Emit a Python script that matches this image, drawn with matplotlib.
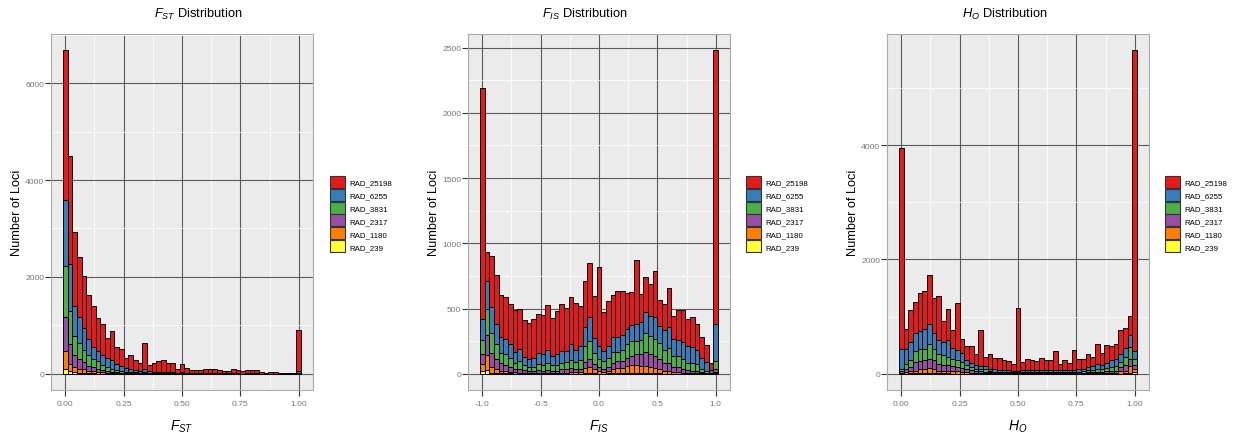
import numpy as np
import matplotlib
matplotlib.use("Agg")
import matplotlib.pyplot as plt
from matplotlib.patches import Patch
from matplotlib.ticker import MultipleLocator

plt.rcParams['font.family'] = ['Liberation Sans', 'DejaVu Sans']
plt.rcParams['mathtext.fontset'] = 'custom'
plt.rcParams['mathtext.rm'] = 'Liberation Sans'
plt.rcParams['mathtext.it'] = 'Liberation Sans:italic'

groups = ["RAD_25198", "RAD_6255", "RAD_3831", "RAD_2317", "RAD_1180", "RAD_239"]
colors = ["#E41A1C", "#377EB8", "#4DAF4A", "#984EA3", "#FF7F00", "#FFFF33"]

# ---- F_ST histogram (bin width 0.02, centres 0..1) ----
fst_centers = np.round(np.arange(51) * 0.02, 2)
fst_r25198 = [3090, 2230, 1530, 1240, 1070, 910, 840, 680, 645, 420, 600, 343, 360, 208, 290, 200, 160,
              545, 137, 180, 222, 250, 190, 185, 80, 165, 105, 58, 58, 70, 85, 85, 85, 70, 47, 41, 78,
              60, 42, 60, 60, 60, 24, 17, 24, 24, 13, 17, 9, 7, 850]
fst_r6255 = [1360, 970, 620, 530, 450, 330, 240, 225, 205, 180, 175, 132, 98, 77, 65, 47, 38, 60, 30, 25,
             25, 25, 25, 22, 12, 18, 12, 7, 7, 8, 10, 10, 10, 8, 5, 5, 8, 6, 4, 6, 6, 6, 3, 2, 3, 3, 2, 2,
             1, 1, 40]
fst_r3831 = [1060, 670, 400, 340, 260, 220, 170, 155, 110, 85, 60, 45, 37, 22, 20, 16, 12, 18, 10, 9, 9,
             9, 8, 8, 5, 6, 4, 3, 3, 3, 3, 3, 3, 3, 2, 1, 3, 2, 1, 2, 2, 2, 1, 1, 1, 1, 0, 1, 0, 0, 7]
fst_r2317 = [700, 413, 242, 200, 150, 110, 90, 65, 47, 35, 25, 20, 17, 12, 10, 8, 7, 8, 5, 4, 4, 4, 3, 3,
             2, 3, 2, 1, 1, 2, 2, 2, 2, 2, 1, 1, 1, 1, 1, 1, 1, 1, 0, 0, 0, 0, 0, 0, 0, 0, 2]
fst_r1180 = [370, 157, 108, 80, 75, 50, 42, 30, 24, 17, 13, 8, 7, 6, 5, 4, 3, 4, 3, 2, 2, 2, 2, 2, 1, 1,
             1, 0, 0, 0, 0, 0, 0, 0, 0, 0, 0, 0, 0, 0, 0, 0, 0, 0, 0, 0, 0, 0, 0, 0, 1]
fst_r239 = [100, 50, 30, 20, 15, 10, 8, 5, 4, 3, 2, 2, 1, 0, 0, 0, 0, 0, 0, 0, 0, 0, 0, 0, 0, 0, 0, 0,
            0, 0, 0, 0, 0, 0, 0, 0, 0, 0, 0, 0, 0, 0, 0, 0, 0, 0, 0, 0, 0, 0, 0]

# ---- F_IS histogram (bin width 0.04, centres -1..1) ----
fis_centers = np.round(-1 + np.arange(51) * 0.04, 2)
fis_r25198 = [1774, 226, 390, 371, 323, 320, 308, 320, 310, 280, 275, 298, 302, 299, 346, 296, 324, 363,
              330, 360, 361, 308, 360, 416, 322, 605, 299, 344, 323, 353, 338, 278, 253, 487, 215, 269,
              247, 352, 204, 203, 294, 179, 232, 252, 208, 231, 200, 154, 128, 52, 2095]
fis_r6255 = [162, 215, 205, 160, 120, 120, 110, 85, 95, 65, 60, 70, 85, 80, 95, 65, 85, 90, 85, 120, 95,
             105, 145, 185, 115, 100, 80, 95, 115, 110, 115, 120, 125, 130, 135, 165, 155, 165, 130, 150,
             165, 130, 125, 130, 125, 125, 110, 90, 65, 20, 290]
fis_r3831 = [102, 200, 150, 115, 80, 80, 65, 45, 55, 35, 35, 32, 47, 45, 55, 45, 45, 50, 55, 60, 55, 65,
             120, 140, 85, 65, 55, 65, 80, 75, 80, 100, 110, 105, 110, 140, 140, 130, 125, 100, 115, 80,
             85, 70, 55, 55, 53, 23, 17, 5, 55]
fis_r2317 = [77, 154, 105, 70, 55, 50, 40, 28, 30, 22, 14, 13, 20, 17, 22, 17, 17, 25, 25, 33, 23, 26, 45,
             60, 40, 30, 25, 30, 45, 50, 55, 65, 75, 85, 90, 110, 100, 95, 75, 60, 60, 40, 38, 30, 22, 19,
             17, 9, 6, 3, 25]
fis_r1180 = [57, 110, 45, 32, 20, 16, 12, 10, 8, 7, 5, 4, 7, 7, 7, 7, 7, 9, 9, 10, 10, 12, 40, 45, 32,
             18, 13, 22, 36, 40, 40, 52, 55, 55, 52, 54, 45, 41, 32, 23, 18, 14, 11, 9, 8, 6, 5, 3, 2, 2, 12]
fis_r239 = [20, 31, 10, 8, 5, 4, 3, 2, 2, 1, 1, 1, 1, 1, 1, 1, 1, 1, 1, 2, 2, 2, 5, 5, 3, 2, 2, 3, 4, 5,
            5, 8, 10, 10, 8, 6, 5, 4, 3, 2, 2, 1, 1, 1, 0, 0, 0, 0, 0, 0, 3]

# ---- H_O histogram (bin width 0.02, centres 0..1) ----
ho_centers = np.round(np.arange(51) * 0.02, 2)
ho_r25198 = [3508, 363, 556, 538, 672, 654, 848, 608, 772, 369, 544, 322, 831, 246, 239, 293, 205, 637,
             157, 263, 201, 200, 176, 157, 109, 1094, 145, 203, 174, 157, 205, 181, 164, 322, 99, 164,
             123, 346, 171, 175, 234, 157, 340, 222, 322, 251, 264, 409, 351, 328, 5269]
ho_r6255 = [351, 252, 321, 327, 316, 351, 362, 292, 234, 222, 293, 199, 175, 163, 100, 70, 58, 59, 59, 41,
            40, 37, 35, 33, 27, 28, 30, 30, 30, 33, 35, 33, 35, 35, 33, 35, 35, 37, 40, 43, 57, 65, 87,
            66, 88, 117, 122, 146, 158, 216, 129]
ho_r3831 = [47, 99, 117, 187, 205, 205, 252, 193, 176, 175, 146, 116, 117, 106, 70, 53, 35, 29, 41, 22, 20,
            20, 20, 18, 16, 17, 17, 17, 17, 18, 20, 17, 20, 20, 17, 19, 19, 21, 22, 25, 35, 40, 48, 42,
            52, 59, 71, 88, 146, 205, 117]
ho_r2317 = [23, 47, 70, 147, 146, 158, 164, 158, 117, 111, 88, 88, 76, 70, 47, 41, 38, 35, 25, 17, 14, 13,
            10, 10, 8, 9, 9, 9, 9, 10, 10, 10, 10, 10, 10, 11, 11, 12, 12, 14, 17, 21, 30, 28, 35, 43, 40,
            70, 88, 128, 70]
ho_r1180 = [15, 25, 41, 50, 66, 66, 79, 66, 50, 41, 52, 42, 36, 26, 26, 21, 13, 11, 9, 8, 6, 5, 5, 4, 4, 4,
            4, 4, 4, 4, 5, 5, 5, 5, 5, 5, 5, 5, 6, 6, 8, 9, 10, 10, 11, 13, 16, 42, 52, 120, 47]
ho_r239 = [3, 4, 6, 8, 10, 10, 20, 10, 8, 6, 6, 5, 5, 3, 3, 2, 2, 1, 1, 0, 0, 0, 0, 0, 0, 0, 0, 0, 0, 0,
           0, 0, 0, 0, 0, 0, 0, 0, 0, 0, 0, 0, 0, 0, 1, 2, 2, 5, 6, 15, 29]


def stacked_hist(ax, centers, width, series):
    # bottom layer is the last group (RAD_239), top is RAD_25198
    bottom = np.zeros(len(centers))
    for vals, col in list(zip(series, colors))[::-1]:
        vals = np.asarray(vals, dtype=float)
        ax.bar(centers, vals, width=width, bottom=bottom, color=col,
               edgecolor="black", linewidth=0.7, zorder=3)
        bottom += vals
    return bottom.max()


def style(ax, xmin, xmax, ymax, xmaj, ymaj):
    ax.set_facecolor("#EBEBEB")
    pad = 0.05 * (xmax - xmin)
    ax.set_xlim(xmin - pad, xmax + pad)
    ax.set_ylim(-0.05 * ymax, 1.05 * ymax)
    ax.xaxis.set_major_locator(MultipleLocator(xmaj))
    ax.xaxis.set_minor_locator(MultipleLocator(xmaj / 2))
    ax.yaxis.set_major_locator(MultipleLocator(ymaj))
    ax.yaxis.set_minor_locator(MultipleLocator(ymaj / 2))
    ax.grid(which="major", color="#5a5a5a", linewidth=0.8, zorder=1)
    ax.grid(which="minor", color="white", linewidth=0.6, zorder=0)
    ax.set_axisbelow(True)
    ax.tick_params(which="major", length=4, width=0.8, color="#333333", pad=1,
                   labelsize=6.1, labelcolor="#777777")
    ax.tick_params(axis="x", pad=3)
    ax.tick_params(which="minor", length=0)
    for sp in ax.spines.values():
        sp.set_color("#AAAAAA")
        sp.set_linewidth(0.8)


fig = plt.figure(figsize=(12.38, 4.39), dpi=100)
W, H = 1238.0, 439.0

specs = [
    (51, fst_centers, 0.02, [fst_r25198, fst_r6255, fst_r3831, fst_r2317, fst_r1180, fst_r239],
     0.0, 1.0, 0.25, 2000, "$F_{ST}$", 198, 330, "{:.2f}"),
    (468, fis_centers, 0.04, [fis_r25198, fis_r6255, fis_r3831, fis_r2317, fis_r1180, fis_r239],
     -1.0, 1.0, 0.5, 500, "$F_{IS}$", 585, 746, "{:.1f}"),
    (887, ho_centers, 0.02, [ho_r25198, ho_r6255, ho_r3831, ho_r2317, ho_r1180, ho_r239],
     0.0, 1.0, 0.25, 2000, "$H_{O}$", 1005, 1165, "{:.2f}"),
]

for left, centers, width, series, x0, x1, xmaj, ymaj, lab, tx, lx, fmt in specs:
    ax = fig.add_axes([left / W, 1 - 391 / H, 262 / W, 356 / H])
    top = stacked_hist(ax, centers, width, series)
    style(ax, x0 - width / 2, x1 + width / 2, top, xmaj, ymaj)
    ticks = np.arange(x0, x1 + 1e-9, xmaj)
    ax.set_xticks(ticks)
    ax.set_xticklabels([fmt.format(v) for v in ticks])
    ax.set_xlabel(lab, fontsize=10, va="center")
    ax.xaxis.set_label_coords(0.5, -0.101)
    ax.set_ylabel("Number of Loci", fontsize=9.2, va="center")
    ax.yaxis.set_label_coords(-0.128, 0.5)
    fig.text(tx / W, 1 - 14 / H, lab + " Distribution", ha="center", va="center", fontsize=9.3)
    handles = [Patch(facecolor=c, edgecolor="#333333", linewidth=0.8, label=g)
               for g, c in zip(groups, colors)]
    fig.legend(handles=handles, loc="center left", bbox_to_anchor=(lx / W, 1 - 215 / H),
               frameon=False, fontsize=5.7, handlelength=1.95, handleheight=1.95,
               handletextpad=0.45, labelspacing=0.12, borderpad=0, borderaxespad=0)

fig.savefig("out.png", dpi=100)
